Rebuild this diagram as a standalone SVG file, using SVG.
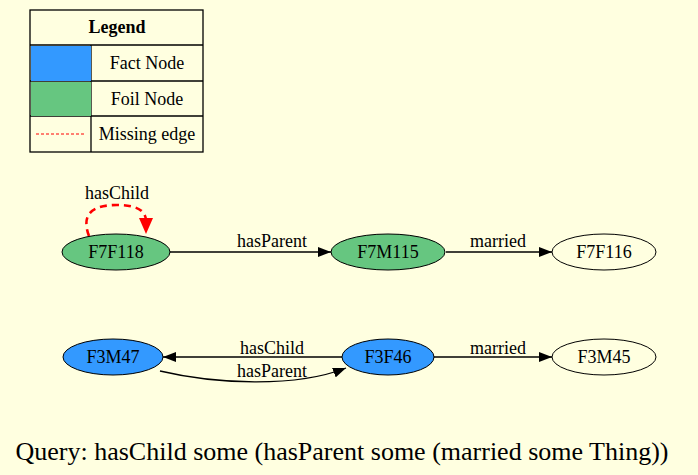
<svg xmlns="http://www.w3.org/2000/svg" width="698" height="475" viewBox="0 0 698 475">
<defs>
<style>
text{font-family:"Liberation Serif","Times New Roman",serif;font-size:18px;fill:#000}
.n{stroke:#000;stroke-width:1}
.e{fill:none;stroke:#000;stroke-width:1.3}
.miss{fill:none;stroke:#ff0000;stroke-width:2.6;stroke-dasharray:7,5}
.lg{fill:none;stroke:#000;stroke-width:1.3}
</style>
<marker id="ah" markerWidth="13" markerHeight="10" refX="13" refY="5" orient="auto" markerUnits="userSpaceOnUse"><path d="M0,0L13,5L0,10Z" fill="#000"/></marker>
<marker id="ahr" markerWidth="13" markerHeight="10" refX="13" refY="5" orient="auto" markerUnits="userSpaceOnUse"><path d="M0,0L13,5L0,10Z" fill="#ff0000"/></marker>
</defs>
<rect width="698" height="475" fill="#ffffe0"/>
<g id="legend">
<rect x="30" y="10" width="173" height="142" class="lg"/>
<line x1="30" y1="45" x2="203" y2="45" class="lg"/>
<line x1="30" y1="81" x2="203" y2="81" class="lg"/>
<line x1="30" y1="116" x2="203" y2="116" class="lg"/>
<line x1="91" y1="45" x2="91" y2="152" class="lg"/>
<rect x="31" y="46" width="60" height="35" fill="#3399ff"/>
<rect x="31" y="82" width="60" height="34" fill="#66c680"/>
<line x1="36" y1="134" x2="84" y2="134" stroke="#ff0000" stroke-width="1" stroke-dasharray="3,2"/>
<text x="117" y="33" text-anchor="middle" font-weight="bold">Legend</text>
<text x="147" y="69" text-anchor="middle">Fact Node</text>
<text x="147" y="105" text-anchor="middle">Foil Node</text>
<text x="147" y="140" text-anchor="middle">Missing edge</text>
</g>
<g id="connectors">
<path d="M170,252 L331,252" class="e" marker-end="url(#ah)"/>
<text x="272" y="247" text-anchor="middle">hasParent</text>
<path d="M446,252 L552,252" class="e" marker-end="url(#ah)"/>
<text x="498" y="247" text-anchor="middle">married</text>
<path d="M89,236 C80,212 95,205 117,205 C136,205 145,210 146,220" class="miss"/>
<path d="M139,218 L153,218 L146,234 Z" fill="#ff0000"/>
<text x="117" y="199" text-anchor="middle">hasChild</text>
<path d="M342,357 L163,357" class="e" marker-end="url(#ah)"/>
<text x="272" y="354" text-anchor="middle">hasChild</text>
<path d="M160,371 C215,384 295,388 346,368" class="e" marker-end="url(#ah)"/>
<text x="272" y="377" text-anchor="middle">hasParent</text>
<path d="M434,357 L552,357" class="e" marker-end="url(#ah)"/>
<text x="498" y="354" text-anchor="middle">married</text>
</g>
<g id="F7F118"><ellipse cx="116" cy="252" rx="54" ry="18" fill="#66c680" class="n"/><text x="116" y="258" text-anchor="middle">F7F118</text></g>
<g id="F7M115"><ellipse cx="388" cy="252" rx="57" ry="18" fill="#66c680" class="n"/><text x="388" y="258" text-anchor="middle">F7M115</text></g>
<g id="F7F116"><ellipse cx="604" cy="252" rx="52" ry="18" fill="#ffffe0" class="n"/><text x="604" y="258" text-anchor="middle">F7F116</text></g>
<g id="F3M47"><ellipse cx="113" cy="357" rx="50" ry="18" fill="#3399ff" class="n"/><text x="113" y="363" text-anchor="middle">F3M47</text></g>
<g id="F3F46"><ellipse cx="388" cy="357" rx="46" ry="18" fill="#3399ff" class="n"/><text x="388" y="363" text-anchor="middle">F3F46</text></g>
<g id="F3M45"><ellipse cx="604" cy="357" rx="52" ry="18" fill="#ffffe0" class="n"/><text x="604" y="363" text-anchor="middle">F3M45</text></g>
<text x="342" y="460" text-anchor="middle" style="font-size:26px">Query: hasChild some (hasParent some (married some Thing))</text>
</svg>
